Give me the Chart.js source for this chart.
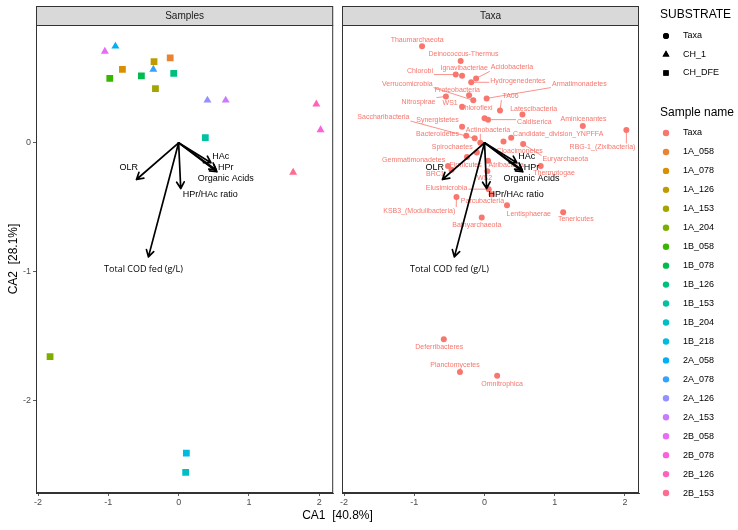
<!DOCTYPE html>
<html>
<head>
<meta charset="utf-8">
<script src="https://cdn.jsdelivr.net/npm/chart.js@4.4.0/dist/chart.umd.min.js"></script>
<style>
  body { margin: 0; background: #fff; }
  #wrap { position: relative; width: 738px; height: 530px; font-family: "Liberation Sans", Arial, sans-serif; }
  canvas { position: absolute; top: 0; }
  #samplesChart { left: 0; }
  #taxaChart { left: 338px; }
  #xTitle { position: absolute; left: 36px; width: 603px; top: 508px; text-align: center; font-size: 12px; white-space: pre; color: #000; }
</style>
</head>
<body>
<div id="wrap">
  <canvas id="samplesChart" width="338" height="530"></canvas>
  <canvas id="taxaChart" width="400" height="530"></canvas>
  <div id="xTitle">CA1  [40.8%]</div>
</div>
<script>
// sample scores
const sampleNames = ['1A_058', '1A_078', '1A_126', '1A_153', '1A_204', '1B_058', '1B_078', '1B_126', '1B_153', '1B_204',
  '1B_218', '2A_058', '2A_078', '2A_126', '2A_153', '2B_058', '2B_078', '2B_126', '2B_153'];
const sampleSubstrate = ['CH_DFE', 'CH_DFE', 'CH_DFE', 'CH_DFE', 'CH_DFE', 'CH_DFE', 'CH_DFE', 'CH_DFE', 'CH_DFE', 'CH_DFE',
  'CH_DFE', 'CH_1', 'CH_1', 'CH_1', 'CH_1', 'CH_1', 'CH_1', 'CH_1', 'CH_1'];
const sampleCA1 = [-0.12, -0.80, -0.35, -0.33, -1.83, -0.98, -0.53, -0.07, 0.38, 0.10,
  0.11, -0.90, -0.36, 0.41, 0.67, -1.05, 2.02, 1.96, 1.63];
const sampleCA2 = [0.66, 0.57, 0.63, 0.42, -1.66, 0.50, 0.52, 0.54, 0.04, -2.56,
  -2.41, 0.75, 0.57, 0.33, 0.33, 0.71, 0.10, 0.30, -0.23];

// taxa scores and where their labels sit
const taxaNames = ['Thaumarchaeota', 'Deinococcus-Thermus', 'Chlorobi', 'Ignavibacteriae', 'Acidobacteria', 'Hydrogenedentes',
  'Verrucomicrobia', 'Proteobacteria', 'Nitrospirae', 'WS1', 'Chloroflexi', 'TA06', 'Armatimonadetes', 'Latescibacteria',
  'Caldiserica', 'Saccharibacteria', 'Synergistetes', 'Actinobacteria', 'Bacteroidetes', 'Candidate_division_YNPFFA',
  'Aminicenantes', 'RBG-1_(Zixibacteria)', 'Cloacimonetes', 'Euryarchaeota', 'Thermotogae', 'Spirochaetes', 'Firmicutes',
  'Gemmatimonadetes', 'BRC1', 'Atribacteria', 'WS2', 'Elusimicrobia', 'Parcubacteria', 'KSB3_(Modulibacteria)',
  'Lentisphaerae', 'Tenericutes', 'Bathyarchaeota', 'Deferribacteres', 'Planctomycetes', 'Omnitrophica'];
const taxaCA1 = [-0.89, -0.34, -0.41, -0.32, -0.12, -0.19, -0.16, -0.22, -0.55, -0.32, 0.00, 0.22, 0.03, 0.54,
  0.05, -0.14, -0.32, -0.06, -0.26, 0.38, 1.40, 2.02, 0.27, 0.55, 0.80, -0.11, -0.25,
  -0.52, -0.47, 0.05, 0.04, 0.06, 0.10, -0.40, 0.32, 1.12, -0.04, -0.58, -0.35, 0.18];
const taxaCA2 = [0.75, 0.635, 0.53, 0.52, 0.50, 0.47, 0.33, 0.37, 0.36, 0.28, 0.19, 0.25, 0.345, 0.22,
  0.18, 0.035, 0.125, 0.00, 0.055, 0.04, 0.13, 0.10, 0.01, -0.01, -0.18, -0.075, -0.11,
  -0.18, -0.21, -0.14, -0.22, -0.36, -0.40, -0.42, -0.485, -0.54, -0.58, -1.525, -1.78, -1.81];
const taxaLabelCA1 = [-0.96, -0.30, -0.92, -0.29, 0.39, 0.475, -1.10, -0.39, -0.94, -0.49, -0.12, 0.37, 1.35, 0.70,
  0.71, -1.44, -0.67, 0.05, -0.67, 1.05, 1.41, 1.68, 0.50, 1.15, 0.99, -0.46, -0.27,
  -1.01, -0.70, 0.31, 0.00, -0.54, -0.03, -0.93, 0.63, 1.30, -0.11, -0.645, -0.42, 0.25];
const taxaLabelCA2 = [0.80, 0.69, 0.56, 0.58, 0.586, 0.48, 0.46, 0.41, 0.32, 0.31, 0.267, 0.363, 0.46, 0.26,
  0.163, 0.20, 0.18, 0.10, 0.068, 0.07, 0.184, -0.036, -0.065, -0.13, -0.233, -0.03, -0.17,
  -0.134, -0.243, -0.17, -0.27, -0.355, -0.453, -0.53, -0.554, -0.595, -0.64, -1.585, -1.73, -1.87];

// environmental vectors
const envNames = ['OLR', 'HPr/HAc ratio', 'Total COD fed (g/L)', 'HAc', 'HPr', 'Organic Acids'];
const envCA1 = [-0.60, 0.03, -0.43, 0.46, 0.535, 0.545];
const envCA2 = [-0.285, -0.355, -0.886, -0.155, -0.21, -0.225];
const envLabelCA1 = [-0.71, 0.45, -0.50, 0.60, 0.67, 0.67];
const envLabelCA2 = [-0.19, -0.40, -0.98, -0.11, -0.194, -0.28];

// legend entries
const substrateLevels = ['Taxa', 'CH_1', 'CH_DFE'];
const colorLevels = ['Taxa'].concat(sampleNames);
const palette = ['#F8766D', '#EA8331', '#D89000', '#C09B00', '#A3A500', '#7CAE00', '#39B600', '#00BB4E', '#00BF7D', '#00C1A3',
  '#00BFC4', '#00BAE0', '#00B0F6', '#35A2FF', '#9590FF', '#C77CFF', '#E76BF3', '#FA62DB', '#FF62BC', '#FF6C91'];
const shapeFor = { 'Taxa': 'circle', 'CH_1': 'triangle', 'CH_DFE': 'rect' };

const FONT = '"Liberation Sans", Arial, sans-serif';
const TAXA_COLOR = palette[0];

function axisScales(showY) {
  return {
    x: {
      type: 'linear', min: -2.03, max: 2.2,
      afterFit: s => { s.height = 37; },
      ticks: { stepSize: 1, includeBounds: false, padding: 1, color: '#4D4D4D', font: { family: FONT, size: 9 } },
      grid: { drawOnChartArea: false, drawTicks: true, tickLength: 3, color: '#333333', lineWidth: 0.8 },
      border: { display: true, color: '#333333', width: 1 }
    },
    y: {
      type: 'linear', min: -2.72, max: 0.915, display: showY,
      afterFit: s => { s.width = showY ? 36 : 0; },
      ticks: { stepSize: 1, includeBounds: false, padding: 2, color: '#4D4D4D', font: { family: FONT, size: 9 } },
      grid: { drawOnChartArea: false, drawTicks: true, tickLength: 3, color: '#333333', lineWidth: 0.8 },
      border: { display: true, color: '#333333', width: 1 }
    }
  };
}

// strip on top + panel border
const facetPlugin = {
  id: 'facet',
  afterDraw(chart, args, opts) {
    const { ctx, chartArea: a } = chart;
    ctx.save();
    ctx.fillStyle = '#D9D9D9';
    ctx.fillRect(a.left, 6, a.right - a.left, a.top - 6);
    ctx.strokeStyle = '#333333';
    ctx.lineWidth = 1;
    ctx.strokeRect(a.left + 0.5, 6.5, a.right - a.left - 1, a.top - 6);
    ctx.strokeRect(a.left + 0.5, a.top + 0.5, a.right - a.left - 1, a.bottom - a.top - 1);
    ctx.fillStyle = '#1A1A1A';
    ctx.font = '10px ' + FONT;
    ctx.textAlign = 'center';
    ctx.textBaseline = 'middle';
    ctx.fillText(opts.title, (a.left + a.right) / 2, (6 + a.top) / 2 + 0.5);
    if (opts.yTitle) {
      ctx.translate(14, (a.top + a.bottom) / 2);
      ctx.rotate(-Math.PI / 2);
      ctx.fillStyle = '#000';
      ctx.font = '12px ' + FONT;
      ctx.fillText(opts.yTitle, 0, 0);
    }
    ctx.restore();
  }
};

function drawArrow(ctx, x0, y0, x1, y1) {
  const ang = Math.atan2(y1 - y0, x1 - x0);
  const head = 7.5;
  ctx.beginPath();
  ctx.moveTo(x0, y0);
  ctx.lineTo(x1, y1);
  ctx.moveTo(x1 - head * Math.cos(ang - Math.PI / 6), y1 - head * Math.sin(ang - Math.PI / 6));
  ctx.lineTo(x1, y1);
  ctx.lineTo(x1 - head * Math.cos(ang + Math.PI / 6), y1 - head * Math.sin(ang + Math.PI / 6));
  ctx.stroke();
}

// environmental arrows, drawn on both panels
const envPlugin = {
  id: 'envArrows',
  afterDatasetsDraw(chart) {
    const { ctx, scales: { x, y } } = chart;
    const x0 = x.getPixelForValue(0), y0 = y.getPixelForValue(0);
    ctx.save();
    ctx.strokeStyle = '#000';
    ctx.lineWidth = 1.7;
    ctx.lineCap = 'round';
    ctx.lineJoin = 'round';
    envNames.forEach((n, i) => {
      drawArrow(ctx, x0, y0, x.getPixelForValue(envCA1[i]), y.getPixelForValue(envCA2[i]));
    });
    ctx.fillStyle = '#000';
    ctx.textAlign = 'center';
    ctx.textBaseline = 'middle';
    envNames.forEach((n, i) => {
      ctx.font = (n.startsWith('Total') ? '9px "Open Sans", ' : '9px ') + FONT;
      ctx.fillText(n, x.getPixelForValue(envLabelCA1[i]), y.getPixelForValue(envLabelCA2[i]));
    });
    ctx.restore();
  }
};

// repel-style taxa labels with segments when far from the point
const taxaLabelPlugin = {
  id: 'taxaLabels',
  afterDatasetsDraw(chart) {
    const { ctx, scales: { x, y } } = chart;
    ctx.save();
    ctx.font = '7px ' + FONT;
    ctx.textAlign = 'center';
    ctx.textBaseline = 'middle';
    ctx.fillStyle = TAXA_COLOR;
    ctx.strokeStyle = TAXA_COLOR;
    ctx.lineWidth = 0.8;
    taxaNames.forEach((n, i) => {
      const px = x.getPixelForValue(taxaCA1[i]), py = y.getPixelForValue(taxaCA2[i]);
      const lx = x.getPixelForValue(taxaLabelCA1[i]), ly = y.getPixelForValue(taxaLabelCA2[i]);
      const w = ctx.measureText(n).width / 2 + 1, h = 4;
      const nx = Math.max(lx - w, Math.min(px, lx + w));
      const ny = Math.max(ly - h, Math.min(py, ly + h));
      if (Math.hypot(nx - px, ny - py) > 8) {
        ctx.beginPath();
        ctx.moveTo(px, py);
        ctx.lineTo(nx, ny);
        ctx.stroke();
      }
      ctx.fillText(n, lx, ly);
    });
    ctx.restore();
  }
};

const legendPlugin = {
  id: 'sideLegend',
  afterDraw(chart) {
    const ctx = chart.ctx;
    const left = 322, symX = 328, textX = 345;
    ctx.save();
    ctx.textBaseline = 'middle';
    ctx.textAlign = 'left';
    ctx.fillStyle = '#000';
    ctx.font = '12px ' + FONT;
    ctx.fillText('SUBSTRATE', left, 15);
    ctx.fillText('Sample name', left, 113);
    ctx.font = '9px ' + FONT;
    substrateLevels.forEach((s, i) => {
      const cy = 36 + i * 18.5;
      Chart.helpers.drawPoint(ctx, { pointStyle: shapeFor[s], radius: s === 'CH_1' ? 4 : s === 'Taxa' ? 3 : 3.8, borderWidth: 0 }, symX, cy);
      ctx.fillStyle = '#000';
      ctx.fill();
      ctx.fillText(s, textX, cy);
    });
    colorLevels.forEach((s, i) => {
      const cy = 133 + i * 18.95;
      ctx.beginPath();
      ctx.arc(symX, cy, 3.2, 0, Math.PI * 2);
      ctx.fillStyle = palette[i];
      ctx.fill();
      ctx.fillStyle = '#000';
      ctx.fillText(s, textX, cy);
    });
    ctx.restore();
  }
};

new Chart(document.getElementById('samplesChart'), {
  type: 'scatter',
  data: {
    datasets: [{
      label: 'Samples',
      data: sampleNames.map((n, i) => ({ x: sampleCA1[i], y: sampleCA2[i] })),
      backgroundColor: sampleNames.map((n, i) => palette[i + 1]),
      pointStyle: sampleSubstrate.map(s => shapeFor[s]),
      pointRadius: sampleSubstrate.map(s => s === 'CH_1' ? 4.6 : 4.8),
      borderWidth: 0
    }]
  },
  options: {
    responsive: false,
    animation: false,
    layout: { padding: { left: 0, right: 4, top: 25, bottom: 0 } },
    scales: axisScales(true),
    plugins: { legend: { display: false }, tooltip: { enabled: false }, facet: { title: 'Samples', yTitle: 'CA2  [28.1%]' } }
  },
  plugins: [facetPlugin, envPlugin]
});

new Chart(document.getElementById('taxaChart'), {
  type: 'scatter',
  data: {
    datasets: [{
      label: 'Taxa',
      data: taxaNames.map((n, i) => ({ x: taxaCA1[i], y: taxaCA2[i] })),
      backgroundColor: TAXA_COLOR,
      pointRadius: 3,
      borderWidth: 0
    }]
  },
  options: {
    responsive: false,
    animation: false,
    layout: { padding: { left: 3, right: 99, top: 25, bottom: 0 } },
    scales: axisScales(false),
    plugins: { legend: { display: false }, tooltip: { enabled: false }, facet: { title: 'Taxa' } }
  },
  plugins: [facetPlugin, taxaLabelPlugin, envPlugin, legendPlugin]
});
</script>
</body>
</html>
